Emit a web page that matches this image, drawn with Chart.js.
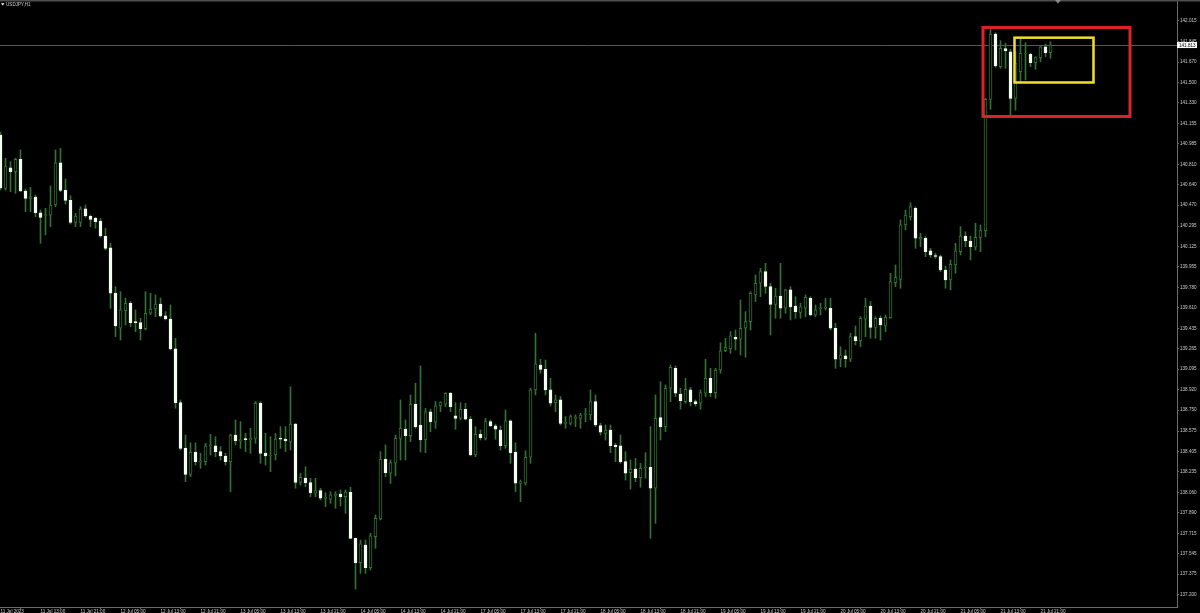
<!DOCTYPE html>
<html>
<head>
<meta charset="utf-8">
<title>USDJPY,H1</title>
<script src="https://cdn.jsdelivr.net/npm/chart.js@4.4.1/dist/chart.umd.min.js"></script>
<style>
html, body { margin: 0; padding: 0; background: #000; overflow: hidden; }
#wrap { width: 1200px; height: 613px; position: relative; }
</style>
</head>
<body>
<div id="wrap"><canvas id="myChart" width="1200" height="613"></canvas></div>
<script>
// USDJPY H1, 11 Jul 2023 05:00 .. 21 Jul 2023 23:00 (one value per hourly bar)
var opens = [
    141.058, 140.611, 140.784, 140.751, 140.855, 140.589, 140.527, 140.538, 140.406, 140.383,
    140.385, 140.471, 140.826, 140.594, 140.510, 140.326, 140.326, 140.440, 140.376, 140.360,
    140.337, 140.209, 140.113, 139.731, 139.437, 139.585, 139.647, 139.487, 139.484, 139.434,
    139.563, 139.599, 139.641, 139.541, 139.515, 139.264, 138.813, 138.430, 138.212, 138.397,
    138.315, 138.318, 138.452, 138.452, 138.402, 138.366, 138.318, 138.542, 138.494, 138.505,
    138.500, 138.514, 138.808, 138.388, 138.366, 138.374, 138.511, 138.508, 138.481, 138.634,
    138.145, 138.181, 138.142, 138.053, 138.075, 138.011, 138.003, 138.036, 138.047, 138.025,
    138.061, 137.675, 137.471, 137.619, 137.429, 137.689, 137.837, 138.338, 138.221, 138.305,
    138.514, 138.592, 138.536, 138.800, 138.626, 138.500, 138.737, 138.649, 138.786, 138.800,
    138.892, 138.702, 138.682, 138.758, 138.674, 138.374, 138.548, 138.514, 138.654, 138.618,
    138.584, 138.452, 138.660, 138.397, 138.137, 138.137, 138.355, 138.920, 139.129, 139.093,
    138.920, 138.813, 138.836, 138.640, 138.640, 138.682, 138.682, 138.712, 138.710, 138.822,
    138.620, 138.556, 138.584, 138.458, 138.450, 138.318, 138.226, 138.257, 138.184, 138.265,
    138.271, 138.095, 138.687, 138.612, 138.934, 139.101, 138.886, 138.822, 138.920, 138.822,
    138.808, 138.892, 139.018, 138.897, 139.087, 139.249, 139.264, 139.362, 139.345, 139.437,
    139.493, 139.717, 139.815, 139.912, 139.786, 139.638, 139.708, 139.605, 139.759, 139.624,
    139.571, 139.605, 139.689, 139.549, 139.601, 139.605, 139.605, 139.437, 139.177, 139.207,
    139.177, 139.367, 139.333, 139.513, 139.624, 139.445, 139.521, 139.456, 139.526, 139.820,
    139.848, 140.304, 140.373, 140.444, 140.184, 140.192, 140.086, 140.044, 140.038, 139.926,
    139.843, 139.968, 140.080, 140.211, 140.169, 140.117, 140.200, 140.256, 141.358, 141.906,
    141.632, 141.783, 141.757, 141.366, 141.590, 141.738, 141.735, 141.665, 141.707, 141.799,
    141.749
];
var highs = [
    141.083, 140.863, 140.835, 140.863, 140.933, 140.605, 140.620, 140.555, 140.429, 140.444,
    140.631, 140.933, 140.947, 140.689, 140.549, 140.402, 140.457, 140.471, 140.387, 140.368,
    140.360, 140.276, 140.150, 139.786, 139.744, 139.689, 139.661, 139.591, 139.521, 139.744,
    139.731, 139.717, 139.691, 139.577, 139.633, 139.353, 138.836, 138.542, 138.477, 138.477,
    138.388, 138.472, 138.548, 138.528, 138.444, 138.388, 138.548, 138.668, 138.654, 138.556,
    138.598, 138.822, 138.822, 138.556, 138.528, 138.556, 138.612, 138.612, 138.947, 138.640,
    138.221, 138.276, 138.179, 138.179, 138.095, 138.058, 138.066, 138.066, 138.081, 138.081,
    138.103, 137.675, 137.661, 137.661, 137.717, 137.871, 138.402, 138.458, 138.332, 138.542,
    138.836, 138.668, 138.878, 138.976, 139.121, 138.766, 138.758, 138.822, 138.822, 138.897,
    138.900, 138.813, 138.813, 138.808, 138.696, 138.612, 138.584, 138.682, 138.668, 138.634,
    138.618, 138.752, 138.668, 138.477, 138.164, 138.410, 138.934, 139.395, 139.177, 139.171,
    139.018, 138.878, 138.864, 138.696, 138.710, 138.710, 138.724, 138.766, 138.920, 138.878,
    138.640, 138.626, 138.626, 138.472, 138.542, 138.402, 138.332, 138.346, 138.304, 138.394,
    138.612, 138.878, 138.989, 138.962, 139.129, 139.121, 138.934, 139.018, 138.942, 138.836,
    138.920, 139.177, 139.101, 139.101, 139.316, 139.353, 139.409, 139.423, 139.675, 139.577,
    139.744, 139.885, 139.940, 139.982, 139.815, 139.773, 139.982, 139.764, 139.786, 139.702,
    139.647, 139.717, 139.702, 139.633, 139.647, 139.689, 139.689, 139.479, 139.283, 139.255,
    139.395, 139.456, 139.535, 139.689, 139.661, 139.535, 139.541, 139.549, 139.898, 139.968,
    140.346, 140.429, 140.491, 140.457, 140.234, 140.206, 140.108, 140.066, 140.052, 139.960,
    140.010, 140.150, 140.290, 140.247, 140.211, 140.318, 140.304, 141.366, 141.945, 141.917,
    141.850, 141.828, 141.777, 141.757, 141.861, 141.833, 141.744, 141.715, 141.805, 141.822,
    141.841
];
var lows = [
    140.597, 140.597, 140.583, 140.569, 140.583, 140.415, 140.415, 140.373, 140.150, 140.220,
    140.290, 140.457, 140.583, 140.479, 140.312, 140.290, 140.290, 140.368, 140.290, 140.276,
    140.200, 140.094, 139.605, 139.367, 139.339, 139.465, 139.451, 139.409, 139.339, 139.423,
    139.549, 139.535, 139.530, 139.507, 139.255, 138.766, 138.416, 138.150, 138.192, 138.290,
    138.262, 138.290, 138.374, 138.360, 138.332, 138.290, 138.066, 138.458, 138.430, 138.402,
    138.388, 138.472, 138.304, 138.290, 138.234, 138.332, 138.430, 138.402, 138.416, 138.095,
    138.122, 138.108, 138.025, 138.025, 137.997, 137.941, 137.969, 137.927, 137.947, 137.885,
    137.672, 137.250, 137.381, 137.381, 137.409, 137.591, 137.829, 138.192, 138.136, 138.198,
    138.332, 138.332, 138.486, 138.598, 138.399, 138.394, 138.570, 138.598, 138.738, 138.780,
    138.738, 138.590, 138.668, 138.668, 138.366, 138.360, 138.500, 138.500, 138.612, 138.506,
    138.416, 138.430, 138.304, 138.066, 137.983, 138.122, 138.304, 138.878, 139.060, 138.878,
    138.786, 138.737, 138.626, 138.598, 138.626, 138.612, 138.598, 138.654, 138.668, 138.612,
    138.542, 138.500, 138.394, 138.318, 138.304, 138.164, 138.087, 138.150, 138.103, 138.179,
    137.675, 137.801, 138.500, 138.570, 138.822, 138.864, 138.758, 138.808, 138.786, 138.786,
    138.758, 138.864, 138.864, 138.850, 139.060, 139.241, 139.227, 139.255, 139.213, 139.194,
    139.423, 139.661, 139.702, 139.731, 139.381, 139.521, 139.521, 139.563, 139.507, 139.521,
    139.521, 139.535, 139.541, 139.535, 139.549, 139.591, 139.423, 139.101, 139.115, 139.110,
    139.157, 139.297, 139.283, 139.367, 139.353, 139.353, 139.339, 139.409, 139.521, 139.786,
    139.773, 140.262, 140.346, 140.108, 140.122, 140.038, 140.033, 140.024, 139.912, 139.773,
    139.759, 139.898, 140.052, 140.122, 140.010, 140.094, 140.080, 140.206, 141.274, 141.626,
    141.618, 141.618, 141.212, 141.268, 141.506, 141.520, 141.632, 141.610, 141.673, 141.715,
    141.702
];
var closes = [
    140.614, 140.793, 140.751, 140.855, 140.589, 140.527, 140.541, 140.406, 140.368, 140.388,
    140.471, 140.826, 140.594, 140.510, 140.326, 140.379, 140.440, 140.379, 140.351, 140.331,
    140.211, 140.108, 139.731, 139.457, 139.591, 139.647, 139.484, 139.484, 139.434, 139.563,
    139.599, 139.641, 139.541, 139.515, 139.264, 138.813, 138.430, 138.212, 138.397, 138.318,
    138.318, 138.452, 138.458, 138.402, 138.366, 138.318, 138.542, 138.494, 138.503, 138.503,
    138.514, 138.808, 138.388, 138.366, 138.374, 138.508, 138.506, 138.492, 138.634, 138.145,
    138.187, 138.142, 138.058, 138.075, 138.011, 138.013, 138.039, 138.039, 138.025, 138.064,
    137.675, 137.471, 137.628, 137.429, 137.697, 137.843, 138.338, 138.226, 138.310, 138.514,
    138.598, 138.536, 138.800, 138.612, 138.500, 138.737, 138.654, 138.786, 138.813, 138.892,
    138.780, 138.682, 138.758, 138.674, 138.374, 138.548, 138.520, 138.654, 138.618, 138.590,
    138.452, 138.660, 138.394, 138.137, 138.148, 138.355, 138.920, 139.138, 139.093, 138.920,
    138.808, 138.836, 138.640, 138.643, 138.696, 138.685, 138.710, 138.714, 138.822, 138.626,
    138.565, 138.584, 138.452, 138.444, 138.318, 138.221, 138.257, 138.184, 138.262, 138.267,
    138.095, 138.682, 138.612, 138.934, 139.110, 138.892, 138.830, 138.926, 138.822, 138.802,
    138.897, 139.018, 138.897, 139.087, 139.249, 139.278, 139.373, 139.345, 139.437, 139.493,
    139.731, 139.815, 139.912, 139.788, 139.638, 139.708, 139.605, 139.759, 139.618, 139.577,
    139.618, 139.697, 139.549, 139.591, 139.603, 139.607, 139.437, 139.177, 139.213, 139.182,
    139.367, 139.333, 139.521, 139.624, 139.445, 139.521, 139.465, 139.529, 139.828, 139.865,
    140.304, 140.387, 140.457, 140.192, 140.200, 140.080, 140.052, 140.039, 139.926, 139.843,
    139.974, 140.086, 140.211, 140.169, 140.122, 140.200, 140.256, 141.358, 141.906, 141.637,
    141.786, 141.766, 141.366, 141.660, 141.744, 141.741, 141.665, 141.707, 141.799, 141.749,
    141.813
];

// time axis labels, one every 8 bars
var xTickLabels = [
    '11 Jul 2023', '11 Jul 13:00', '11 Jul 21:00', '12 Jul 05:00', '12 Jul 13:00', '12 Jul 21:00',
    '13 Jul 05:00', '13 Jul 13:00', '13 Jul 21:00', '14 Jul 05:00', '14 Jul 13:00', '14 Jul 21:00',
    '17 Jul 05:00', '17 Jul 13:00', '17 Jul 21:00', '18 Jul 05:00', '18 Jul 13:00', '18 Jul 21:00',
    '19 Jul 05:00', '19 Jul 13:00', '19 Jul 21:00', '20 Jul 05:00', '20 Jul 13:00', '20 Jul 21:00',
    '21 Jul 05:00', '21 Jul 13:00', '21 Jul 21:00'
];
var xTickStep = 8;

// price scale labels
var yTickValues = [
    142.015, 141.845, 141.670, 141.500, 141.330, 141.155, 140.985, 140.810, 140.640, 140.470,
    140.295, 140.125, 139.955, 139.780, 139.610, 139.435, 139.265, 139.095, 138.920, 138.750,
    138.575, 138.405, 138.235, 138.060, 137.890, 137.715, 137.545, 137.375, 137.200
];

var symbolTitle = 'USDJPY,H1';

// drawn boxes, in bar index / price units
var redBox = { from: 196.5, to: 225.9, top: 141.960, bottom: 141.214 };
var yellowBox = { from: 202.8, to: 218.6, top: 141.875, bottom: 141.499 };

var GREEN = '#337233';
var WHITE = '#f3fff0';
var AXIS = '#6a6a6a';
var TEXT = '#cdcdcd';
var FONT = { family: 'Liberation Sans', size: 4.6 };

var bodies = opens.map(function (o, i) { return { x: i, y: [o, closes[i]] }; });
var wicks = lows.map(function (l, i) { return { x: i, y: [l, highs[i]] }; });

function isBull(i) { return closes[i] >= opens[i]; }

var overlay = {
    id: 'overlay',
    beforeDatasetsDraw: function (chart) {
        var ctx = chart.ctx, area = chart.chartArea, y = chart.scales.y;
        var py = Math.round(y.getPixelForValue(closes[closes.length - 1])) + 0.5;
        ctx.save();
        ctx.strokeStyle = '#565656';
        ctx.lineWidth = 1;
        ctx.beginPath();
        ctx.moveTo(area.left, py);
        ctx.lineTo(area.right, py);
        ctx.stroke();
        ctx.restore();
    },
    afterDatasetsDraw: function (chart) {
        var ctx = chart.ctx, x = chart.scales.x, y = chart.scales.y;
        function box(b, color, w) {
            var l = x.getPixelForValue(b.from), r = x.getPixelForValue(b.to);
            var t = y.getPixelForValue(b.top), btm = y.getPixelForValue(b.bottom);
            ctx.save();
            ctx.strokeStyle = color;
            ctx.lineWidth = w;
            ctx.strokeRect(l, t, r - l, btm - t);
            ctx.restore();
        }
        box(redBox, '#dc2327', 3);
        box(yellowBox, '#f2df2b', 2.5);
    },
    afterDraw: function (chart) {
        var ctx = chart.ctx, area = chart.chartArea, x = chart.scales.x, y = chart.scales.y;
        var last = closes[closes.length - 1];
        var py = y.getPixelForValue(last);
        ctx.save();
        // bid label on the price scale
        ctx.fillStyle = '#ffffff';
        ctx.fillRect(area.right, py - 3, 20, 6);
        ctx.fillStyle = '#000000';
        ctx.font = FONT.size + 'px ' + FONT.family;
        ctx.textBaseline = 'middle';
        ctx.textAlign = 'left';
        ctx.fillText(last.toFixed(3), area.right + 2, py + 0.3);
        // window top edge
        ctx.fillStyle = '#4e4e4e';
        ctx.fillRect(0, 0, chart.width, 1.5);
        // shift marker
        var sx = x.getPixelForValue(closes.length + 0.5);
        ctx.fillStyle = '#8c8c8c';
        ctx.beginPath();
        ctx.moveTo(sx - 3, 0);
        ctx.lineTo(sx + 3, 0);
        ctx.lineTo(sx, 3.5);
        ctx.closePath();
        ctx.fill();
        // symbol title
        ctx.fillStyle = '#ffffff';
        ctx.beginPath();
        ctx.moveTo(1, 3.2);
        ctx.lineTo(4.5, 3.2);
        ctx.lineTo(2.75, 5.5);
        ctx.closePath();
        ctx.fill();
        ctx.fillStyle = TEXT;
        ctx.fillText(symbolTitle, 6, 4.8);
        ctx.restore();
    }
};

var ctx = document.getElementById('myChart').getContext('2d');
var myChart = new Chart(ctx, {
    type: 'bar',
    data: {
        datasets: [{
            label: 'body',
            data: bodies,
            order: 0,
            grouped: false,
            barThickness: 3,
            minBarLength: 1,
            borderWidth: 1,
            borderSkipped: false,
            backgroundColor: function (c) { return isBull(c.dataIndex) ? '#000000' : WHITE; },
            borderColor: function (c) { return isBull(c.dataIndex) ? GREEN : WHITE; }
        }, {
            label: 'wick',
            data: wicks,
            order: 1,
            grouped: false,
            barThickness: 1,
            borderWidth: 0,
            backgroundColor: GREEN
        }]
    },
    options: {
        responsive: false,
        devicePixelRatio: 1,
        animation: false,
        events: [],
        layout: { padding: 0 },
        plugins: { legend: { display: false }, tooltip: { enabled: false } },
        scales: {
            x: {
                type: 'linear',
                position: 'bottom',
                offset: false,
                min: -0.1,
                max: 235.3,
                grid: { display: true, drawOnChartArea: false, drawTicks: true, tickLength: 2, color: AXIS },
                border: { display: true, color: AXIS, width: 1 },
                ticks: {
                    autoSkip: false, maxRotation: 0, align: 'start', padding: 0,
                    color: TEXT, font: FONT,
                    callback: function (v, i) { return xTickLabels[i]; }
                },
                afterBuildTicks: function (scale) {
                    scale.ticks = xTickLabels.map(function (_, i) { return { value: i * xTickStep }; });
                },
                afterFit: function (scale) {
                    scale.height = 6;
                    scale.paddingLeft = 0;
                    scale.paddingRight = 0;
                }
            },
            y: {
                type: 'linear',
                position: 'right',
                min: 137.099,
                max: 142.191,
                grid: { display: true, drawOnChartArea: false, drawTicks: true, tickLength: 2, color: AXIS },
                border: { display: true, color: AXIS, width: 1 },
                ticks: {
                    autoSkip: false, padding: 1,
                    color: TEXT, font: FONT,
                    callback: function (v) { return v.toFixed(3); }
                },
                afterBuildTicks: function (scale) {
                    scale.ticks = yTickValues.map(function (v) { return { value: v }; });
                },
                afterFit: function (scale) {
                    scale.width = 23;
                    scale.paddingTop = 0;
                    scale.paddingBottom = 0;
                }
            }
        }
    },
    plugins: [overlay]
});
</script>
</body>
</html>
